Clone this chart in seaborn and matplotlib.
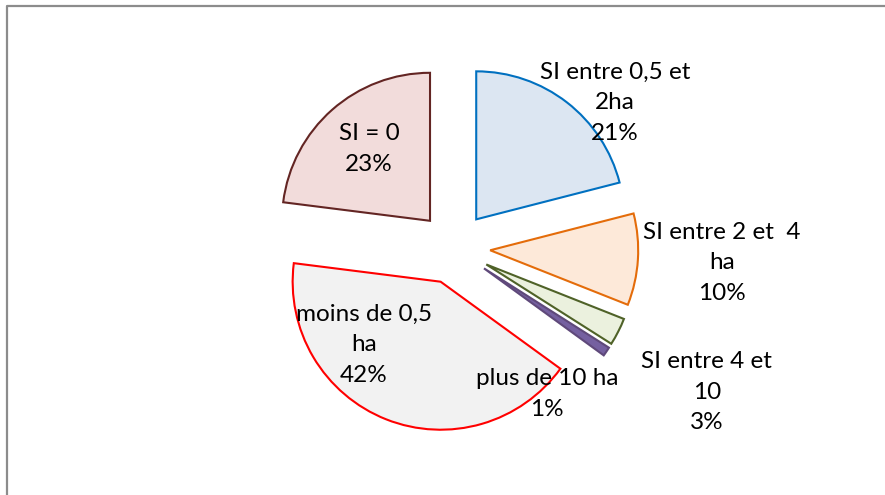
import matplotlib
matplotlib.use("Agg")
import matplotlib.pyplot as plt
import seaborn as sns
from matplotlib.lines import Line2D

# data
categories = ["SI entre 0,5 et\n2ha", "SI entre 2 et  4\nha", "SI entre 4 et\n10",
              "plus de 10 ha", "moins de 0,5\nha", "SI = 0"]
shares = [21, 10, 3, 1, 42, 23]

# style
fills = ["#DCE6F2", "#FDE9D9", "#EBF1DE", "#7560A0", "#F2F2F2", "#F2DCDB"]
edges = ["#0070C0", "#E46C0A", "#4F6228", "#5F497A", "#FF0000", "#632523"]
label_pos = [(1.088, 0.98), (1.81, -0.10), (1.709, -0.973),
             (0.628, -0.986), (-0.608, -0.655), (-0.574, 0.669)]

sns.set_style("white")
plt.rcParams['font.family'] = ['Lato', 'DejaVu Sans']

fig = plt.figure(figsize=(8.85, 4.95), dpi=100)
ax = fig.add_axes([0, 0, 1, 1])

wedges, _ = ax.pie(shares, startangle=90, counterclock=False, radius=1,
                   explode=[0.245] * len(shares), colors=fills,
                   wedgeprops=dict(linewidth=1.5))
for w, ec in zip(wedges, edges):
    w.set_edgecolor(ec)

for cat, val, (x, y) in zip(categories, shares, label_pos):
    ax.text(x, y, f"{cat}\n{val}%", ha="center", va="center",
            fontsize=17.5, linespacing=1.55, color="black")

ax.set_xlim(-454 / 148, (885 - 454) / 148)
ax.set_ylim(-(495 - 248) / 148, 248 / 148)
ax.set_aspect("auto")
ax.axis("off")

# outer frame (only top and left visible)
x0, y0 = 7 / 885, 1 - 5.5 / 495
fig.lines.append(Line2D([x0, x0, 1.0], [0, y0, y0], transform=fig.transFigure,
                        color="#8C8C8C", linewidth=1.6))

fig.savefig("out.png", dpi=100)
